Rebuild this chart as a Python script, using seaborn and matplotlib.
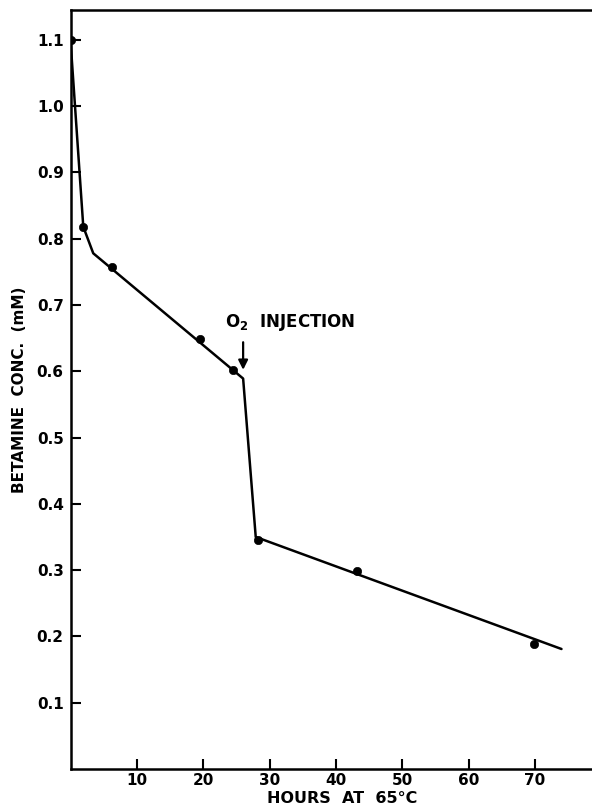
import pandas as pd
import matplotlib.pyplot as plt
import seaborn as sns

# measured points
hours = [0, 1.9, 6.3, 19.5, 24.5, 28.2, 43.2, 69.9]
conc = [1.10, 0.818, 0.757, 0.649, 0.602, 0.345, 0.298, 0.188]

# hand-drawn fit curve through the points
fit_hours = [0, 1.9, 3.4, 26.0, 27.9, 74.0]
fit_conc = [1.095, 0.818, 0.778, 0.589, 0.350, 0.181]

xticks = [10, 20, 30, 40, 50, 60, 70]
yticks = [0.1, 0.2, 0.3, 0.4, 0.5, 0.6, 0.7, 0.8, 0.9, 1.0, 1.1]

sns.set_style('white')
plt.rcParams['font.family'] = ['DejaVu Sans']
plt.rcParams['font.weight'] = 'bold'
plt.rcParams['text.color'] = 'black'

pts = pd.DataFrame({'hours': hours, 'conc': conc})
fit = pd.DataFrame({'hours': fit_hours, 'conc': fit_conc})

fig = plt.figure(figsize=(5.92, 8.08), dpi=100)
ax = fig.add_axes([0.1194, 0.0483, 0.8806, 0.9393])

sns.lineplot(data=fit, x='hours', y='conc', ax=ax, color='black', lw=1.8, sort=False)
sns.scatterplot(data=pts, x='hours', y='conc', ax=ax, color='black', s=36,
                edgecolor='black', zorder=3)

ax.set_xlim(0, 78.6)
ax.set_ylim(0, 1.145)
ax.set_xticks(xticks)
ax.set_xticklabels([str(t) for t in xticks], fontsize=11, fontweight='bold')
ax.set_yticks(yticks)
ax.set_yticklabels(['%.1f' % t for t in yticks], fontsize=11, fontweight='bold')
ax.tick_params(axis='both', direction='in', length=7, width=1.5, pad=3,
               color='black', labelcolor='black', bottom=True, left=True)
ax.tick_params(axis='y', pad=5)

for side in ['left', 'top', 'bottom']:
    ax.spines[side].set_visible(True)
    ax.spines[side].set_color('black')
    ax.spines[side].set_linewidth(1.8)
ax.spines['right'].set_visible(False)

ax.set_xlabel('HOURS  AT  65°C', fontsize=11.5, fontweight='bold', color='black')
ax.xaxis.set_label_coords(0.52, -0.029)
ax.set_ylabel('BETAMINE  CONC.  (mM)', fontsize=11, fontweight='bold',
              color='black', labelpad=7)

ax.annotate('', xy=(26.0, 0.598), xytext=(26.0, 0.648),
            arrowprops=dict(arrowstyle='-|>', color='black', lw=1.6, mutation_scale=14))
ax.text(23.3, 0.673, r'O$_2$  INJECTION', fontsize=12, fontweight='bold',
        va='center', ha='left')

fig.savefig('out.png', dpi=100)
